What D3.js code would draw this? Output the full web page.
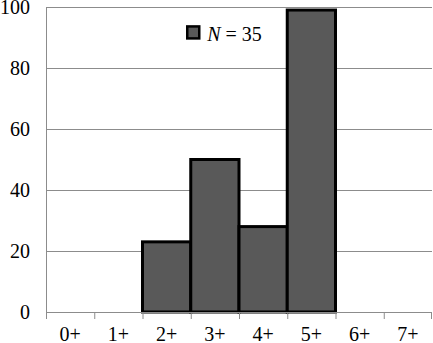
<!DOCTYPE html>
<html>
<head>
<meta charset="utf-8">
<script src="https://cdn.jsdelivr.net/npm/d3@7"></script>
<style>
  body { margin: 0; }
</style>
</head>
<body>
<svg id="chart" width="433" height="343"></svg>
<script>
const categories = ['0+', '1+', '2+', '3+', '4+', '5+', '6+', '7+'];
const values = [0, 0, 23, 50, 28, 99, 0, 0];
const yTicks = [0, 20, 40, 60, 80, 100];

const FONT = "'Liberation Serif'";

const margin = { top: 7, right: 1, bottom: 31, left: 46 },
      width = 433 - margin.left - margin.right,
      height = 343 - margin.top - margin.bottom;

const svg = d3.select('#chart')
    .append('g')
    .attr('transform', `translate(${margin.left},${margin.top})`);

const x = d3.scaleBand()
    .domain(categories)
    .range([0, width])
    .padding(0);

const y = d3.scaleLinear()
    .domain([0, 100])
    .range([height, 0]);

// gridlines
svg.selectAll('.grid')
    .data(yTicks.filter(d => d > 0))
    .enter().append('line')
    .attr('x1', 0)
    .attr('x2', width)
    .attr('y1', d => y(d) + 0.5)
    .attr('y2', d => y(d) + 0.5)
    .attr('stroke', '#8c8c8c')
    .attr('stroke-width', 1);

// y axis
const yAxis = svg.append('g')
    .call(d3.axisLeft(y).tickValues(yTicks).tickSize(0).tickPadding(16));
yAxis.select('.domain').attr('stroke', '#8c8c8c').attr('d', `M0.5,0V${height}`);
yAxis.selectAll('text')
    .attr('fill', '#000')
    .style('font-family', FONT)
    .style('font-size', '20px');

// bars
svg.selectAll('.bar')
    .data(categories.map((c, i) => ({ cat: c, val: values[i] })).filter(d => d.val > 0))
    .enter().append('rect')
    .attr('class', 'bar')
    .attr('x', d => x(d.cat))
    .attr('y', d => y(d.val))
    .attr('width', x.bandwidth())
    .attr('height', d => height - y(d.val))
    .attr('fill', '#595959')
    .attr('stroke', '#000')
    .attr('stroke-width', 3);

// x axis
const xAxis = svg.append('g')
    .attr('transform', `translate(0,${height})`)
    .call(d3.axisBottom(x).tickSize(0).tickPadding(15));
xAxis.select('.domain').attr('stroke', '#8c8c8c').attr('d', `M0,0.5H${width}`);
xAxis.selectAll('text')
    .attr('fill', '#000')
    .style('font-family', FONT)
    .style('font-size', '20px');

// tick marks on band edges
const edges = categories.map(c => x(c)).concat([width - 1]);
xAxis.selectAll('.edge')
    .data(edges)
    .enter().append('line')
    .attr('x1', d => d + 0.5)
    .attr('x2', d => d + 0.5)
    .attr('y1', 0)
    .attr('y2', 7)
    .attr('stroke', '#8c8c8c');

// legend
const legend = svg.append('g')
    .attr('transform', `translate(${x('3+') - 3.5},${y(91.5)})`);
legend.append('rect')
    .attr('x', 0)
    .attr('y', -6.5)
    .attr('width', 12)
    .attr('height', 12)
    .attr('fill', '#595959')
    .attr('stroke', '#000')
    .attr('stroke-width', 2.5);
const lt = legend.append('text')
    .attr('x', 20)
    .attr('y', 8)
    .style('font-family', FONT)
    .style('font-size', '20px');
lt.append('tspan').style('font-style', 'italic').text('N');
lt.append('tspan').text(' = 35');
</script>
</body>
</html>
